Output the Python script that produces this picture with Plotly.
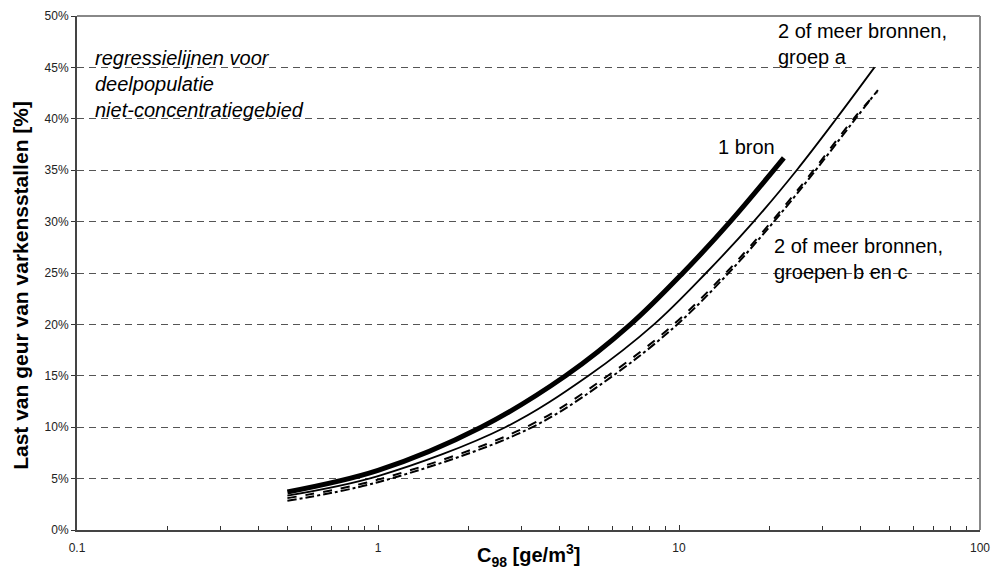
import plotly.graph_objects as go

# --- data (C98 in ge/m3, share in %) ---
c_1bron = [0.5, 1.0, 2.2, 4.2, 6.9, 10.3, 14.8, 22.3]
y_1bron = [3.7, 5.8, 10.0, 15.0, 20.0, 25.0, 30.0, 36.2]

c_groep_a = [0.5, 1.0, 2.65, 5.0, 8.26, 12.3, 17.7, 24.6, 33.3, 44.6]
y_groep_a = [3.35, 5.25, 10.0, 15.0, 20.0, 25.0, 30.0, 35.0, 40.0, 45.0]

c_groep_b = [0.5, 1.0, 3.1, 5.8, 9.6, 14.3, 20.3, 28.0, 38.0, 45.5]
y_groep_b = [3.1, 4.9, 10.0, 15.0, 20.0, 25.0, 30.0, 35.0, 40.0, 42.6]

c_groep_c = [0.5, 1.0, 3.15, 5.9, 9.7, 14.4, 20.4, 28.1, 38.1, 45.8]
y_groep_c = [2.85, 4.65, 9.8, 14.8, 19.8, 24.8, 29.8, 34.8, 39.8, 42.8]

y_ticks = [0, 5, 10, 15, 20, 25, 30, 35, 40, 45, 50]
y_ticklabels = [f"{v}%" for v in y_ticks]
x_ticks = [0.1, 1, 10, 100]
x_ticklabels = ["0.1", "1", "10", "100"]

FONT = "Liberation Sans, Arial, sans-serif"

fig = go.Figure()
fig.add_trace(go.Scatter(x=c_groep_c, y=y_groep_c, mode="lines",
                         line=dict(color="black", width=2, dash="dashdot", shape="spline", smoothing=1.0),
                         name="groep c"))
fig.add_trace(go.Scatter(x=c_groep_b, y=y_groep_b, mode="lines",
                         line=dict(color="black", width=2, dash="dash", shape="spline", smoothing=1.0),
                         name="groep b"))
fig.add_trace(go.Scatter(x=c_groep_a, y=y_groep_a, mode="lines",
                         line=dict(color="black", width=1.8, shape="spline", smoothing=1.0),
                         name="groep a"))
fig.add_trace(go.Scatter(x=c_1bron, y=y_1bron, mode="lines",
                         line=dict(color="black", width=5, shape="spline", smoothing=1.0),
                         name="1 bron"))

fig.update_layout(
    width=994, height=572,
    margin=dict(l=77, r=14, t=16, b=42),
    paper_bgcolor="white", plot_bgcolor="white",
    showlegend=False,
    font=dict(family=FONT, color="black"),
    xaxis=dict(
        type="log", range=[-1, 2], automargin=False,
        tickvals=x_ticks, ticktext=x_ticklabels,
        ticks="inside", ticklen=5, tickcolor="#333",
        minor=dict(ticks="inside", ticklen=4, tickcolor="#333", showgrid=False, dtick="D1"),
        showgrid=False, zeroline=False,
        showline=True, linecolor="#444", linewidth=2,
        tickfont=dict(size=12, color="#222"),
        ticklabelstandoff=6,
    ),
    yaxis=dict(
        range=[0, 50], automargin=False,
        tickvals=y_ticks, ticktext=y_ticklabels,
        ticks="outside", ticklen=4, tickcolor="#333",
        showgrid=True, gridcolor="#555", griddash="7px,5px", gridwidth=1,
        zeroline=False,
        showline=True, linecolor="#444", linewidth=2,
        tickfont=dict(size=12, color="#222"),
        ticklabelstandoff=0,
    ),
)

# axis titles
fig.add_annotation(xref="paper", yref="paper", x=-0.062, y=0.475, xanchor="center", yanchor="middle",
                   text="<b>Last van geur van varkensstallen [%]</b>", textangle=-90,
                   showarrow=False, font=dict(size=21, family=FONT))
fig.add_annotation(xref="paper", yref="paper", x=0.5, y=-0.05, xanchor="center", yanchor="middle",
                   text="<b>C<sub>98</sub> [ge/m<sup>3</sup>]</b>",
                   showarrow=False, font=dict(size=20, family=FONT))

# grey frame on top and right
fig.add_shape(type="line", xref="paper", yref="paper", x0=0, x1=1, y0=1, y1=1,
              line=dict(color="#888", width=2))
fig.add_shape(type="line", xref="paper", yref="paper", x0=1, x1=1, y0=0, y1=1,
              line=dict(color="#888", width=2))

fig.add_annotation(xref="paper", yref="y", x=0.0177, y=43.4, xanchor="left", yanchor="middle",
                   text="<i>regressielijnen voor<br>deelpopulatie<br>niet-concentratiegebied</i>",
                   showarrow=False, align="left", font=dict(size=20, family=FONT))
fig.add_annotation(x=1.326, y=37.3, xref="x", yref="y", xanchor="right", yanchor="middle",
                   text="1 bron", showarrow=False, font=dict(size=20, family=FONT))
fig.add_annotation(x=1.322, y=47.3, xref="x", yref="y", xanchor="left", yanchor="middle",
                   text="2 of meer bronnen,<br>groep a", showarrow=False, align="left",
                   font=dict(size=20, family=FONT))
fig.add_annotation(x=1.309, y=26.4, xref="x", yref="y", xanchor="left", yanchor="middle",
                   text="2 of meer bronnen,<br>groepen b en c", showarrow=False, align="left",
                   font=dict(size=20, family=FONT))

fig.write_html("out.html")
